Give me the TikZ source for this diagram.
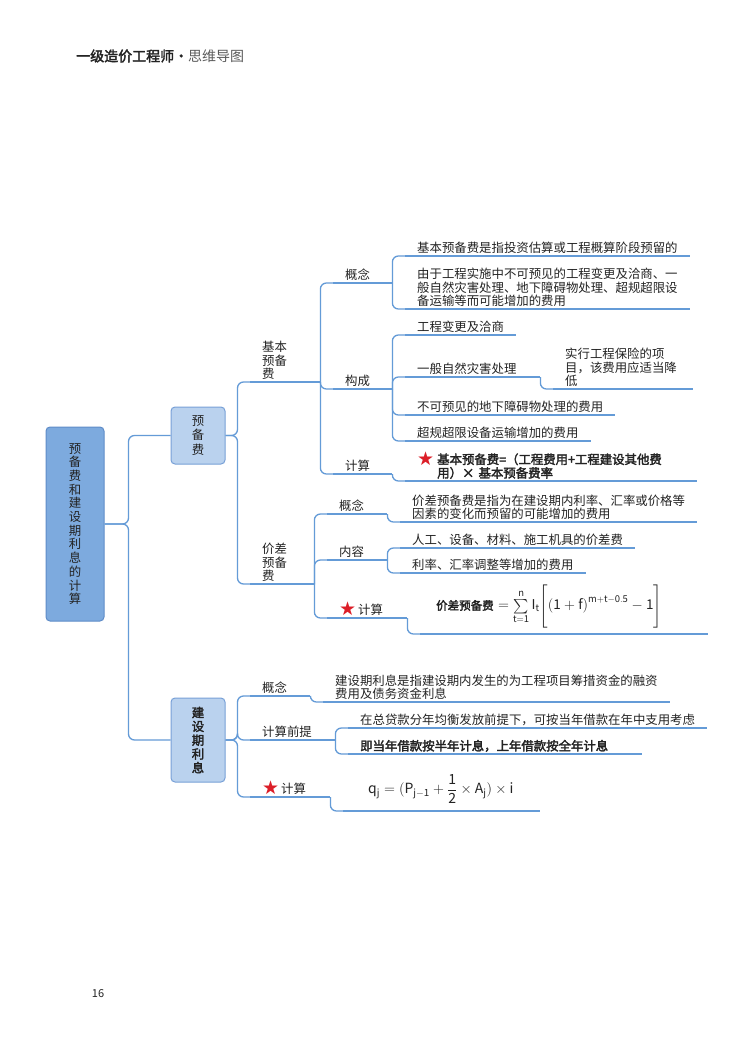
\documentclass[tikz,border=0pt]{standalone}
\usepackage{fontspec}
\usepackage{amsmath}
\setmainfont{Noto Sans CJK SC}[AutoFakeBold=2.5]
\setsansfont{Noto Sans CJK SC}[AutoFakeBold=2.5]
\newfontfamily\symfont{DejaVu Sans}

\definecolor{linkblue}{RGB}{100,155,215}
\definecolor{rootfill}{RGB}{125,170,222}
\definecolor{rootline}{RGB}{95,140,200}
\definecolor{subfill}{RGB}{186,210,238}
\definecolor{subline}{RGB}{120,160,215}
\definecolor{ink}{RGB}{35,35,35}
\definecolor{titlegray}{RGB}{90,90,90}
\definecolor{starred}{RGB}{220,30,40}

\newcommand\leaffont{\fontsize{12.4}{13.6}\selectfont}
\newcommand\boxfont{\fontsize{12.4}{14.2}\selectfont}
\newcommand\redstar{\raisebox{-1.5pt}{\fontsize{19}{19}\symfont\textcolor{starred}{★}}}

\begin{document}
\begin{tikzpicture}[x=1pt,y=-1pt,
    link/.style={draw=linkblue, line width=1.3pt, rounded corners=6pt},
    rootbox/.style={rectangle, draw=rootline, fill=rootfill, line width=1pt, rounded corners=4pt, align=center, font=\boxfont, text=ink},
    subbox/.style={rectangle, draw=subline, fill=subfill, line width=1pt, rounded corners=4pt, align=center, font=\boxfont, text=ink},
    leaf/.style={anchor=south west, align=left, inner xsep=12pt, inner ysep=2pt, font=\leaffont, text=ink},
    branch/.style={leaf, text width=#1}]
      \fill[white] (0,0) rectangle (743,1052);
      \useasboundingbox (0,0) rectangle (743,1052);

      \node[anchor=west, inner sep=0, font=\fontsize{14}{16}\selectfont, text=ink] (title) at (76,56)
        {\textbf{一级造价工程师·}{\color{titlegray}思维导图}};
      \node[font=\fontsize{11}{13}\selectfont, text=ink] (pageno) at (98,994) {16};

      % boxes
      \node at (75,524) [rootbox, minimum width=58pt, minimum height=194pt,
        font=\fontsize{12.4}{13.7}\selectfont] (root) {预\\备\\费\\和\\建\\设\\期\\利\\息\\的\\计\\算};
      \node at (198,435.5) [subbox, minimum width=54pt, minimum height=57pt] (ybf) {预\\备\\费};
      \node at (198,740) [subbox, minimum width=54pt, minimum height=84pt,
        font=\bfseries\fontsize{12.4}{13.8}\selectfont] (jsq) {建\\设\\期\\利\\息};

      % 基本预备费
      \node at (250,382) [branch=46pt] (jbybf) {基本\\预备\\费};
      \node at (333,283) [branch=35pt] (gn1) {概念};
      \node at (333,389) [branch=35pt] (gc1) {构成};
      \node at (333,474) [branch=35pt] (js1) {计算};
      \node at (405,256) [leaf] (gn1a) {基本预备费是指投资估算或工程概算阶段预留的};
      \node at (405,309) [leaf] (gn1b) {由于工程实施中不可预见的工程变更及洽商、一\\般自然灾害处理、地下障碍物处理、超规超限设\\备运输等而可能增加的费用};
      \node at (405,335) [leaf] (gc1a) {工程变更及洽商};
      \node at (405,377) [branch=111pt] (gc1b) {一般自然灾害处理};
      \node at (553,389) [branch=116pt] (gc1b1) {实行工程保险的项\\目，该费用应适当降\\低};
      \node at (405,415) [leaf] (gc1c) {不可预见的地下障碍物处理的费用};
      \node at (405,441) [leaf] (gc1d) {超规超限设备运输增加的费用};
      \node at (405,481) [branch=268pt] (jf1)
        {\redstar\hspace{3pt}\parbox[t]{245pt}{\bfseries 基本预备费=（工程费用+工程建设其他费\\用）× 基本预备费率}};

      % 价差预备费
      \node at (250,584) [branch=40pt] (jcybf) {价差\\预备\\费};
      \node at (327,514) [branch=36pt] (gn2) {概念};
      \node at (327,560) [branch=36pt] (nr2) {内容};
      \node at (327,618) [branch=56pt] (js2) {\redstar\hspace{2pt}计算};
      \node at (400,522) [leaf] (gn2a) {价差预备费是指为在建设期内利率、汇率或价格等\\因素的变化而预留的可能增加的费用};
      \node at (400,548) [leaf] (nr2a) {人工、设备、材料、施工机具的价差费};
      \node at (400,573) [leaf] (nr2b) {利率、汇率调整等增加的费用};
      \node at (420,634) [branch=264pt, inner ysep=6pt, font=\fontsize{13.5}{15}\selectfont] (jf2)
        {\hspace*{4pt}{\fontsize{11.5}{13}\selectfont\bfseries 价差预备费}
         $=\sum\limits_{\mathsf{t=1}}^{\mathsf{n}}\mathsf{I_t}\Biggl[\mathsf{(1+f)}^{\mathsf{m+t-0.5}}-\mathsf{1}\Biggr]$};

      % 建设期利息
      \node at (250,696) [branch=36pt] (gn3) {概念};
      \node at (250,740) [branch=61pt] (qt3) {计算前提};
      \node at (250,797) [branch=56pt] (js3) {\redstar\hspace{2pt}计算};
      \node at (323,702) [leaf] (gn3a) {建设期利息是指建设期内发生的为工程项目筹措资金的融资\\费用及债务资金利息};
      \node at (348,728) [leaf] (qt3a) {在总贷款分年均衡发放前提下，可按当年借款在年中支用考虑};
      \node at (348,754) [branch=270pt] (qt3b) {\bfseries 即当年借款按半年计息，上年借款按全年计息};
      \node at (343,811) [branch=173pt, inner ysep=7pt, font=\fontsize{14}{16}\selectfont] (jf3)
        {\hspace*{13pt}$\mathsf{q_j=(P_{j-1}+\dfrac{1}{2}\times A_j)\times i}$};

      % underlines
      \foreach \n in {jbybf,gn1,gc1,js1,gn1a,gn1b,gc1a,gc1b,gc1b1,gc1c,gc1d,jf1,
                      jcybf,gn2,nr2,js2,gn2a,nr2a,nr2b,jf2,
                      gn3,qt3,js3,gn3a,qt3a,qt3b,jf3}
        \draw[link] (\n.south west) -- (\n.south east);

      % connectors
      \foreach \c in {ybf,jsq}
        \draw[link] (root.east) -- ++(24,0) |- (\c.west);
      \foreach \c in {jbybf,jcybf}
        \draw[link] (ybf.east) -- ++(12,0) |- (\c.south west);
      \foreach \c in {gn3,qt3,js3}
        \draw[link] (jsq.east) -- ++(12,0) |- (\c.south west);
      \foreach \c in {gn1,gc1,js1}
        \draw[link] (jbybf.south east) |- (\c.south west);
      \foreach \c in {gn1a,gn1b}
        \draw[link] (gn1.south east) |- (\c.south west);
      \foreach \c in {gc1a,gc1b,gc1c,gc1d}
        \draw[link] (gc1.south east) |- (\c.south west);
      \draw[link] (gc1b.south east) |- (gc1b1.south west);
      \draw[link] (js1.south east) |- (jf1.south west);
      \foreach \c in {gn2,nr2,js2}
        \draw[link] (jcybf.south east) |- (\c.south west);
      \draw[link] (gn2.south east) |- (gn2a.south west);
      \foreach \c in {nr2a,nr2b}
        \draw[link] (nr2.south east) |- (\c.south west);
      \draw[link] (js2.south east) |- (jf2.south west);
      \draw[link] (gn3.south east) |- (gn3a.south west);
      \foreach \c in {qt3a,qt3b}
        \draw[link] (qt3.south east) |- (\c.south west);
      \draw[link] (js3.south east) |- (jf3.south west);
\end{tikzpicture}
\end{document}
